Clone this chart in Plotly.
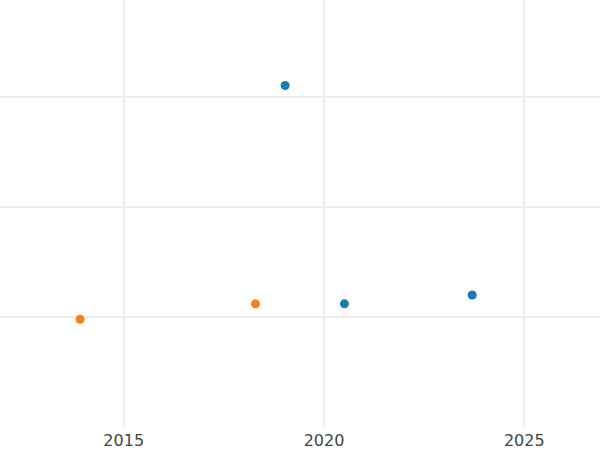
import plotly.graph_objects as go

# Data
blue_x = [2019.03, 2020.51, 2023.70]
blue_y = [3.10, 1.12, 1.20]
orange_x = [2013.91, 2018.29]
orange_y = [0.98, 1.12]

x_tickvals = [2015, 2020, 2025]
x_ticktext = ["2015", "2020", "2025"]
y_tickvals = [1, 2, 3]

fig = go.Figure()
fig.add_trace(go.Scatter(x=blue_x, y=blue_y, mode="markers",
                         marker=dict(color="#1f77b4", size=9), showlegend=False))
fig.add_trace(go.Scatter(x=orange_x, y=orange_y, mode="markers",
                         marker=dict(color="#ff7f0e", size=9), showlegend=False))

fig.update_layout(
    width=600, height=450,
    margin=dict(l=0, r=0, t=0, b=23),
    paper_bgcolor="white", plot_bgcolor="white",
    font=dict(family="DejaVu Sans", size=16, color="#444444"),
    showlegend=False,
)
fig.update_xaxes(range=[2011.912, 2026.89], tickvals=x_tickvals, ticktext=x_ticktext,
                 showgrid=True, gridcolor="#eeeeee", gridwidth=2, zeroline=False,
                 showline=False, ticks="", ticklabelstandoff=2)
fig.update_yaxes(range=[0.003, 3.876], tickvals=y_tickvals, showticklabels=False,
                 showgrid=True, gridcolor="#eeeeee", gridwidth=2, zeroline=False,
                 showline=False, ticks="")

fig.write_html("out.html", config={"displayModeBar": False},
               post_script="document.body.style.margin='0';document.body.style.overflow='hidden';")
